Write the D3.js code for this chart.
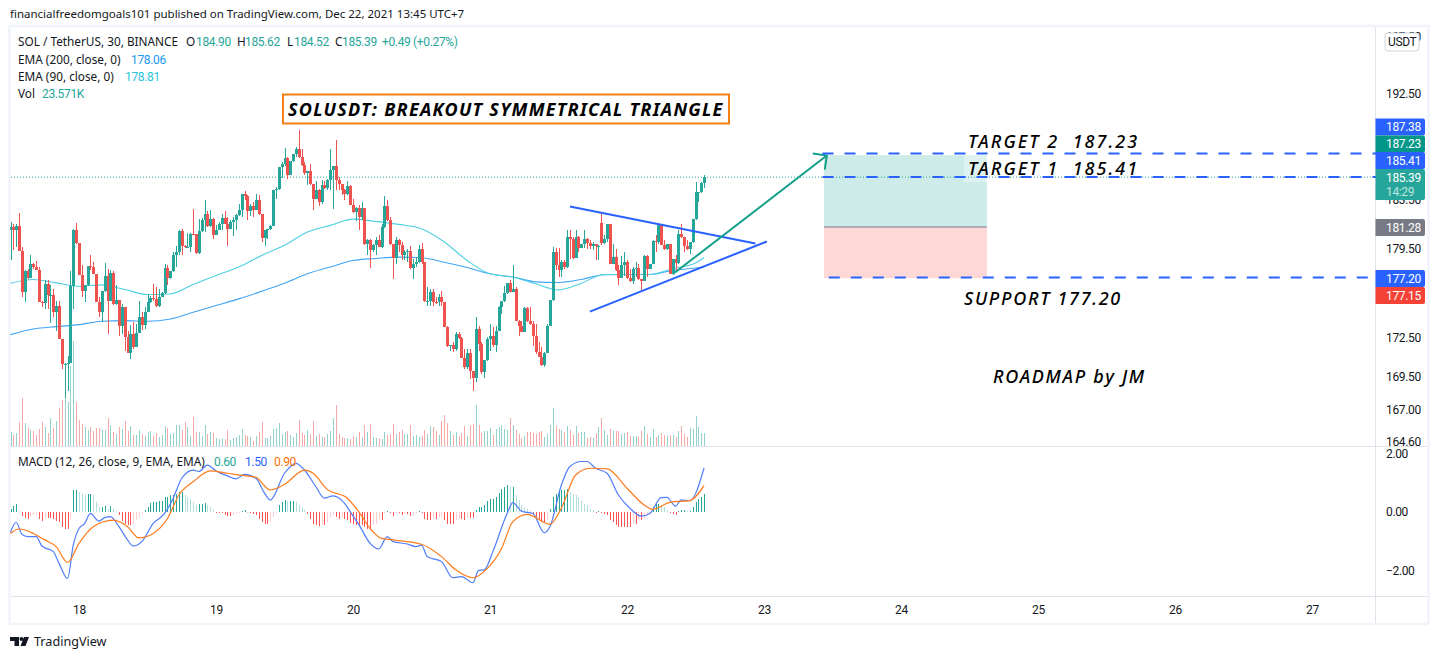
<!DOCTYPE html>
<html><head><meta charset="utf-8">
<style>html,body{margin:0;padding:0;background:#fff;overflow:hidden}svg{display:block}text{font-family:"Noto Sans",sans-serif;fill:#131722}</style>
<script src="https://cdnjs.cloudflare.com/ajax/libs/d3/7.8.5/d3.min.js"></script>
</head><body><svg id="c" width="1439" height="659"></svg>
<script>
const closes=[181.27,181.00,181.33,179.33,176.04,177.69,177.16,178.30,178.04,177.83,175.30,175.17,176.70,175.82,175.82,174.46,174.98,172.37,170.45,170.45,170.50,176.51,181.00,179.98,177.37,176.17,176.57,178.09,178.04,177.50,175.30,174.46,176.17,177.29,175.38,177.58,175.11,175.43,173.35,174.90,172.50,171.26,172.76,171.73,172.84,174.06,173.49,174.51,175.24,175.56,175.46,174.98,175.69,175.96,178.00,177.16,177.69,178.97,179.24,180.92,179.74,179.66,179.66,180.73,180.68,179.16,180.92,181.89,182.35,181.33,181.95,180.60,181.06,181.54,182.03,181.54,181.14,181.68,181.81,182.27,182.63,
183.95,183.79,182.57,182.99,182.68,183.51,182.35,180.40,181.00,181.14,181.38,184.34,184.42,186.22,186.49,186.99,185.53,186.71,187.34,187.79,187.04,186.43,185.72,185.93,184.78,183.57,184.34,183.32,184.75,184.48,185.17,185.99,186.35,185.17,184.78,184.34,183.95,184.62,183.10,182.49,182.82,182.08,182.85,179.87,180.25,179.39,179.85,180.20,179.66,181.27,182.96,181.81,179.87,178.79,180.25,179.79,178.97,179.24,179.33,177.96,178.30,178.43,179.52,178.43,175.33,175.38,176.09,175.30,175.24,175.69,175.24,173.33,171.80,171.93,171.60,172.76,172.45,170.90,170.19,171.26,169.88,169.37,173.15,171.98,
169.80,170.75,172.37,172.63,171.93,173.02,174.85,175.38,175.96,176.78,176.09,176.30,173.75,173.41,172.94,174.80,173.75,173.54,172.58,171.34,171.01,170.39,171.26,173.41,175.43,179.24,178.22,177.77,178.43,178.04,180.47,180.33,178.79,180.47,179.58,179.93,180.33,179.98,179.71,179.87,179.71,179.71,179.98,180.33,181.49,178.30,178.84,177.77,177.18,178.17,178.43,177.16,176.89,177.91,177.96,177.10,176.91,178.92,177.91,178.30,180.12,180.06,181.41,179.79,179.52,179.87,177.50,178.65,178.36,180.73,180.47,179.71,179.46,180.06,181.95,184.15,184.15,184.89,185.39];
const highs=[181.68,181.49,181.49,182.43,179.66,177.77,177.91,179.03,178.36,178.50,178.04,175.38,176.97,176.97,176.57,176.30,175.38,175.38,172.37,170.50,171.08,177.69,181.14,181.59,179.98,178.17,176.57,178.15,179.03,178.43,177.50,175.69,176.17,178.38,177.91,177.77,177.69,176.57,175.43,175.11,174.90,172.97,173.49,173.67,173.54,175.38,174.46,174.85,175.90,175.77,176.70,176.43,176.30,176.04,178.30,178.17,177.69,179.24,179.71,181.00,181.14,179.85,180.79,180.79,182.77,180.73,181.95,182.03,183.46,182.58,182.68,182.00,181.41,181.68,182.35,182.58,182.08,181.81,182.08,182.35,183.18,
183.95,184.20,183.87,183.18,183.32,183.95,183.87,182.35,181.00,181.14,181.41,184.34,184.56,186.22,186.63,187.85,187.10,186.77,187.34,187.96,189.38,187.76,186.63,185.93,186.49,184.78,185.11,184.42,185.17,185.11,185.25,187.76,186.35,188.48,185.39,184.78,184.42,185.06,184.70,183.59,182.90,183.04,183.32,182.85,180.33,180.33,179.93,180.47,180.60,181.54,183.79,183.51,182.08,179.87,180.47,180.33,180.06,179.38,179.52,179.71,178.70,178.84,179.79,180.01,178.30,176.43,176.30,176.30,175.64,175.90,176.17,175.24,173.41,171.93,172.11,172.89,172.89,172.50,171.60,171.60,171.60,169.93,174.06,173.41,
172.11,170.75,172.50,173.54,173.28,173.41,174.98,175.38,176.51,176.78,177.02,178.17,176.48,173.85,173.80,174.85,174.85,174.85,173.80,173.54,172.11,171.73,171.34,173.54,175.43,179.66,179.60,179.60,178.57,178.57,181.06,181.06,180.47,181.06,180.52,179.93,181.00,180.39,180.20,180.06,179.79,179.79,182.43,180.60,181.54,181.54,179.87,179.52,178.17,178.90,179.24,178.57,177.91,178.04,178.43,178.30,177.10,179.03,178.97,178.30,180.20,180.60,181.49,181.41,180.20,179.93,179.87,178.65,178.97,181.00,181.54,180.47,180.20,180.06,181.95,184.97,184.15,184.97,185.61];
const lows=[178.57,179.38,179.66,179.33,175.64,175.24,177.10,177.16,177.91,177.77,175.24,174.85,174.72,174.72,173.59,174.06,172.97,172.37,170.06,167.82,168.40,170.50,174.72,179.93,177.37,175.64,175.30,176.51,177.77,177.45,175.24,174.06,173.67,176.04,172.76,175.38,175.06,175.06,172.63,172.76,171.47,171.26,170.85,171.60,171.73,172.81,173.07,173.15,174.46,175.19,175.38,174.85,174.85,175.64,175.90,176.57,177.10,177.63,178.04,178.97,178.97,179.60,179.60,179.24,180.65,179.11,179.11,180.87,180.87,181.27,181.27,180.33,180.60,181.00,181.00,181.49,179.71,181.08,180.52,181.00,182.16,
182.13,183.46,181.81,182.21,182.08,182.63,182.30,180.06,179.71,180.33,181.00,181.33,183.59,184.34,185.33,186.35,185.25,185.53,186.66,187.04,186.99,186.35,185.53,184.70,184.70,182.71,183.54,182.96,183.18,184.42,184.34,184.28,182.77,184.34,184.28,183.87,183.46,183.87,183.04,182.43,181.76,181.00,181.81,179.79,178.97,177.96,179.24,178.97,179.66,179.60,181.22,181.76,179.79,177.05,178.30,179.24,178.57,178.57,178.43,177.91,177.10,178.04,178.36,178.30,175.24,174.98,174.98,174.93,175.11,174.98,174.98,173.28,171.73,171.47,171.34,171.47,172.37,170.90,170.06,170.06,169.29,168.40,169.04,171.47,
169.67,169.37,170.70,171.47,171.78,171.39,173.02,174.33,175.24,175.90,176.04,176.04,173.75,172.63,172.89,172.89,173.67,173.49,171.86,171.21,170.95,170.32,170.19,171.26,173.41,175.38,177.83,177.24,177.24,177.91,178.00,178.70,178.70,178.79,179.24,179.58,179.58,179.52,179.52,179.38,178.57,178.57,179.79,179.87,180.06,178.30,178.30,177.72,176.57,177.24,177.29,177.10,176.84,176.70,177.24,176.97,176.04,176.91,177.24,177.91,178.25,179.24,179.93,179.79,179.44,179.44,177.45,177.37,177.63,178.30,180.41,179.24,179.38,179.11,180.01,181.89,183.32,184.06,184.48];
const firstOpen=181.00;
const gapOpenBars=[207];
const gapOpenPrices=[181.59];
const volumes=[24.2,19.5,22.4,42.5,85,41.3,31.9,28.3,26.6,19.5,30.1,42.5,33.6,23,49.6,31.9,44.3,67.3,81.4,128.6,77.9,141.6,185.9,77.9,46,38.9,33.6,28.3,33.6,26.6,31.9,31.9,28.3,28.3,49.6,37.2,24.8,21.2,33.6,30.1,44.3,26.6,35.4,19.5,19.5,28.3,21.2,17.7,24.8,26.6,17.7,23,15.9,19.5,35.4,31.9,21.2,23,37.2,37.2,28.3,42.5,33.6,17.7,51.3,24.8,24.8,17.7,37.2,21.2,24.8,23,14.2,12.4,14.2,12.4,28.3,10.6,14.2,15.9,19.5,
30.1,19.5,17.7,15.9,8.9,17.7,24.8,42.5,14.2,14.2,17.7,30.1,31.9,40.7,21.2,24.8,26.6,19.5,15.9,23,46,23,19.5,28.3,21.2,44.3,17.7,21.2,15.9,15.9,21.2,26.6,49.6,72.6,21.2,15.9,14.2,14.2,12.4,17.7,15.9,24.8,14.2,37.2,24.8,38.9,15.9,14.2,14.2,12.4,24.8,19.5,21.2,38.9,21.2,24.8,28.3,21.2,21.2,37.2,17.7,19.5,15.9,17.7,28.3,21.2,35.4,33.6,26.6,19.5,44.3,54.9,40.7,26.6,19.5,24.8,17.7,23,35.4,17.7,37.2,38.9,72.6,37.2,
23,26.6,26.6,31.9,19.5,30.1,33.6,37.2,30.1,28.3,49.6,37.2,28.3,21.2,14.2,17.7,24.8,24.8,23,21.2,24.8,26.6,15.9,21.2,37.2,67.3,35.4,30.1,28.3,24.8,35.4,28.3,19.5,35.4,23,24.8,24.8,14.2,15.9,14.2,23,33.6,49.6,28.3,19.5,30.1,26.6,26.6,26.6,21.2,23,24.8,17.7,17.7,17.7,15.9,26.6,35.4,21.2,15.9,30.1,15.9,19.5,23,19.5,17.7,19.5,19.5,15.9,26.6,35.4,21.2,15.9,31.9,30.1,53.1,33.6,23,23.57];
const emaBars=[0,8,16,24,32,40,48,56,64,72,80,88,96,104,112,120,128,136,144,152,160,168,176,184,192,200,208,216,224,232,240,243];
const ema90=[176.75,177.05,176.78,176.51,176.62,176.25,175.85,175.90,176.65,177.37,178.04,178.97,179.79,180.87,181.41,181.92,181.73,181.49,181.14,180.06,178.57,177.50,177.24,176.70,176.22,176.75,177.45,177.45,177.45,177.91,178.36,178.81];
const ema200=[172.71,173.15,173.33,173.49,173.75,173.80,173.75,173.93,174.46,174.98,175.51,176.11,176.75,177.50,178.04,178.57,178.73,178.84,178.79,178.43,178.00,177.50,177.24,176.86,176.81,177.05,177.42,177.45,177.45,177.77,177.96,178.06];
const macdBars=[0,2,4,6,9,11,15,17,20,22,24,26,28,31,33,35,38,41,43,46,50,54,57,60,64,66,69,72,76,79,82,86,89,91,96,100,103,107,110,113,117,119,122,126,129,132,134,139,142,144,146,151,155,158,162,164,166,169,174,176,179,183,187,189,193,196,200,202,205,209,213,217,221,224,228,230,233,235,238,243];
const macdLine=[-0.69,-0.35,-0.76,-0.84,-0.84,-1.16,-1.35,-1.75,-2.26,-1.12,-0.56,-0.39,-0.05,-0.31,-0.19,-0.16,-0.50,-0.95,-1.16,-1.01,-0.39,-0.05,0.47,1.15,1.43,1.38,1.60,1.40,1.23,1.13,1.28,1.15,0.64,0.41,1.32,1.66,1.43,0.86,0.47,0.55,0.30,0.01,-0.42,-1.07,-1.26,-0.84,-1.01,-1.09,-1.18,-1.13,-1.52,-1.69,-2.24,-2.20,-2.41,-1.99,-1.97,-1.35,-0.05,0.32,0.03,-0.05,-0.70,-0.50,0.92,1.55,1.72,1.72,1.49,1.32,0.58,0.13,-0.14,-0.05,0.49,0.50,0.20,0.41,0.39,1.50];
const signalBars=[0,3,8,12,16,20,24,29,36,41,45,50,55,59,64,70,76,82,86,91,96,103,106,111,118,122,126,130,134,144,151,156,162,167,172,176,181,189,193,198,203,209,216,222,225,231,238,243];
const signalLine=[-0.73,-0.58,-0.73,-0.95,-1.18,-1.72,-1.07,-0.50,-0.28,-0.50,-0.88,-0.73,-0.22,0.58,1.03,1.40,1.32,1.24,1.18,0.75,0.94,1.43,1.32,0.77,0.47,0.01,-0.56,-0.90,-0.95,-1.10,-1.52,-1.97,-2.24,-1.93,-1.25,-0.33,-0.08,-0.42,0.13,1.26,1.49,1.47,0.81,0.24,0.09,0.33,0.39,0.90];
const histogram=[0.09,0.20,0.28,0.05,-0.14,-0.20,-0.23,-0.16,-0.11,-0.09,-0.25,-0.32,-0.20,-0.20,-0.20,-0.23,-0.32,-0.34,-0.51,-0.57,-0.57,-0.23,0.74,0.74,0.68,0.63,0.57,0.63,0.63,0.57,0.34,0.17,0.17,0.20,0.11,0.20,0.09,0.02,-0.11,-0.32,-0.40,-0.43,-0.43,-0.40,-0.28,-0.20,-0.06,0.06,0.17,0.32,0.34,0.34,0.36,0.36,0.51,0.51,0.57,0.57,0.63,0.68,0.68,0.57,0.51,0.45,0.34,0.23,0.28,0.28,0.32,0.23,0.17,0.06,-0.01,-0.03,-0.05,-0.11,-0.14,-0.14,-0.11,-0.03,-0.02,0.02,0.06,0.01,-0.03,-0.07,-0.09,-0.23,-0.34,-0.40,-0.40,-0.34,-0.17,-0.02,0.23,0.34,0.40,0.38,0.38,0.38,0.34,0.25,0.17,0.06,-0.06,-0.23,-0.40,-0.43,-0.48,-0.43,-0.43,-0.34,-0.20,-0.09,-0.17,-0.23,-0.20,-0.25,-0.28,-0.36,-0.40,-0.43,-0.45,
-0.45,-0.51,-0.57,-0.63,-0.45,-0.40,-0.23,-0.28,-0.02,0.03,-0.03,-0.14,-0.02,-0.03,-0.09,-0.06,-0.06,-0.14,-0.11,-0.02,0.02,-0.02,-0.25,-0.28,-0.28,-0.23,-0.23,-0.20,-0.17,-0.28,-0.40,-0.42,-0.42,-0.28,-0.23,-0.23,-0.28,-0.20,-0.20,-0.20,0.06,0.17,0.17,0.23,0.36,0.43,0.45,0.51,0.66,0.77,0.85,0.91,0.85,0.85,0.57,0.40,0.23,0.17,0.09,0.03,-0.06,-0.17,-0.25,-0.34,-0.34,-0.28,0.09,0.51,0.63,0.70,0.74,0.74,0.77,0.68,0.63,0.57,0.51,0.36,0.28,0.25,0.11,0.06,-0.01,0.02,-0.03,-0.06,-0.11,-0.28,-0.34,-0.43,-0.51,-0.51,-0.51,-0.51,-0.51,-0.40,-0.40,-0.28,-0.28,-0.20,-0.11,-0.06,0.17,0.28,0.28,0.23,0.17,0.06,-0.03,-0.06,-0.09,0.03,0.06,0.06,0.03,0.03,0.17,0.34,0.45,0.51,0.60];
const dayBars=[24,72,120,168,216,264,312,360,408,456];
const dayLabels=["18","19","20","21","22","23","24","25","26","27"];
const priceTicks=[197.5,192.5,183.5,179.5,172.5,169.5,167,164.6];
const macdTicks=[2,0,-2];
const upperTrend=[[196,182.95],[261,179.93]];
const lowerTrend=[[203,174.50],[265,180.10]];
const arrowTrend=[[232.8,177.60],[286,187.20]];
const target2Line=[[284.5,187.38],[456+22.6,187.38]];
const target1Line=[[284.5,185.41],[456+22.6,185.41]];
const supportLine=[[286.7,177.20],[476.5,177.20]];
const boxBars=[285,342.1];
const boxPrices=[187.23,181.28,177.15];

const GREEN="#26a69a",RED="#ef5350";
const NUM="Roboto,sans-serif";
const svg=d3.select("#c");
const x=d3.scaleLinear().domain([24,456]).range([79,1312]);
const y=d3.scaleLog().domain([164.6,192.5]).range([441.5,93.5]);
const vY=d3.scaleLinear().domain([0,186]).range([446,341]);
const mY=d3.scaleLinear().domain([-2,2]).range([570.7,453.3]);
const opens=closes.map((c,i)=>{const g=gapOpenBars.indexOf(i);return g>=0?gapOpenPrices[g]:(i?closes[i-1]:firstOpen);});
const bars=closes.map((c,i)=>i);
const px=i=>Math.round(x(i));

// frame
svg.append("rect").attr("x",9.5).attr("y",26).attr("width",1419).attr("height",598).attr("fill","#fff").attr("stroke","#f0f3fa").attr("stroke-width",2.5);
[[1375.5,27,1375.5,623],[11,446.5,1427,446.5],[11,596.5,1427,596.5]].forEach(l=>svg.append("line").attr("x1",l[0]).attr("y1",l[1]).attr("x2",l[2]).attr("y2",l[3]).attr("stroke","#e0e3eb"));
// header
svg.append("text").attr("x",10).attr("y",18).attr("font-size",11.5).text("financialfreedomgoals101 published on TradingView.com, Dec 22, 2021 13:45 UTC+7");

// position box
svg.append("rect").attr("x",x(boxBars[0])).attr("width",x(boxBars[1])-x(boxBars[0])).attr("y",y(boxPrices[0])).attr("height",y(boxPrices[1])-y(boxPrices[0])).attr("fill","#cdebe8");
svg.append("rect").attr("x",x(boxBars[0])).attr("width",x(boxBars[1])-x(boxBars[0])).attr("y",y(boxPrices[1])).attr("height",y(boxPrices[2])-y(boxPrices[1])).attr("fill","#fdd8d6");
svg.append("line").attr("x1",x(boxBars[0])).attr("x2",x(boxBars[1])).attr("y1",y(boxPrices[1])).attr("y2",y(boxPrices[1])).attr("stroke","#787b86");
svg.append("rect").attr("x",964).attr("y",155).attr("width",23).attr("height",27).attr("fill","rgba(255,255,255,.35)");

// volume
svg.append("g").selectAll("rect").data(bars).join("rect")
 .attr("x",px).attr("width",1).attr("y",i=>vY(volumes[i])).attr("height",i=>446-vY(volumes[i]))
 .attr("fill",i=>closes[i]>=opens[i]?"rgba(38,166,154,.5)":"rgba(239,83,80,.5)").attr("shape-rendering","crispEdges");

// last price dotted
svg.append("line").attr("x1",11).attr("x2",1375).attr("y1",y(185.39)).attr("y2",y(185.39)).attr("stroke",GREEN).attr("stroke-dasharray","1 2");

const line=(xs,ys,sc)=>d3.line().x((d,i)=>x(xs[i])).y(d=>sc(d)).curve(d3.curveMonotoneX)(ys);
svg.append("path").attr("d",line(emaBars,ema200,y)).attr("fill","none").attr("stroke","#42a5f5").attr("stroke-width",1.1);
svg.append("path").attr("d",line(emaBars,ema90,y)).attr("fill","none").attr("stroke","#4dd0e1").attr("stroke-width",1.1);

// candles
const cg=svg.append("g").attr("shape-rendering","crispEdges");
cg.selectAll(".w").data(bars).join("rect").attr("class","w").attr("x",px).attr("width",1)
 .attr("y",i=>y(highs[i])).attr("height",i=>Math.max(1,y(lows[i])-y(highs[i])))
 .attr("fill",i=>closes[i]>=opens[i]?GREEN:RED);
cg.selectAll(".b").data(bars).join("rect").attr("class","b").attr("x",i=>px(i)-1).attr("width",3)
 .attr("y",i=>y(Math.max(opens[i],closes[i]))).attr("height",i=>Math.max(1,Math.abs(y(opens[i])-y(closes[i]))))
 .attr("fill",i=>closes[i]>=opens[i]?GREEN:RED);

// drawings
const seg=(pts,col,w,dash)=>svg.append("line").attr("x1",x(pts[0][0])).attr("y1",y(pts[0][1])).attr("x2",x(pts[1][0])).attr("y2",y(pts[1][1])).attr("stroke",col).attr("stroke-width",w).attr("stroke-dasharray",dash||null);
seg(upperTrend,"#2962ff",2);seg(lowerTrend,"#2962ff",2);
seg(arrowTrend,"#12a08a",2);
const tip=[x(arrowTrend[1][0]),y(arrowTrend[1][1])];
svg.append("path").attr("d",`M${tip[0]-14},${tip[1]-2}L${tip[0]},${tip[1]}L${tip[0]-2},${tip[1]+14}`).attr("fill","none").attr("stroke","#12a08a").attr("stroke-width",2);
seg(target2Line,"#2962ff",2,"11 11");seg(target1Line,"#2962ff",2,"11 11");seg(supportLine,"#2962ff",2,"11 11");

// annotations
svg.append("rect").attr("x",283).attr("y",94.5).attr("width",446).attr("height",29).attr("fill","#fff").attr("stroke","#f57f17").attr("stroke-width",2);
const note=(t,xx,yy,fs,w,ls)=>svg.append("text").attr("x",xx).attr("y",yy).attr("font-size",fs).attr("font-style","italic").attr("font-weight",w).style("letter-spacing",ls+"px").style("white-space","pre").style("fill","#000").text(t);
note("SOLUSDT: BREAKOUT SYMMETRICAL TRIANGLE",288,116,18,700,1.25);
note("TARGET 2  187.23",968,148,18,500,2.05);
note("TARGET 1  185.41",968,175,18,500,2.05);
note("SUPPORT 177.20",964,305,18,500,1.7);
note("ROADMAP by JM",993,383,18,500,1.7);

// MACD
svg.append("g").selectAll("rect").data(bars).join("rect").attr("x",px).attr("width",1)
 .attr("y",i=>Math.min(mY(histogram[i]),mY(0))).attr("height",i=>Math.max(1,Math.abs(mY(histogram[i])-mY(0))))
 .attr("fill",i=>{const v=histogram[i],p=i?histogram[i-1]:0;return v>=0?(v>=p?GREEN:"#b2dfdb"):(v<=p?"#ff5252":"#ffcdd2");}).attr("shape-rendering","crispEdges");
svg.append("path").attr("d",line(macdBars,macdLine,mY)).attr("fill","none").attr("stroke","#4f7dfb").attr("stroke-width",1.2);
svg.append("path").attr("d",line(signalBars,signalLine,mY)).attr("fill","none").attr("stroke","#ff7a1a").attr("stroke-width",1.2);

// axes
const clean=g=>{g.select(".domain").remove();g.selectAll(".tick line").remove();g.selectAll("text").attr("fill","#131722").style("font-family",NUM).style("font-size","12px").style("letter-spacing","-.35px");};
svg.append("g").attr("transform","translate(1386,0)").call(d3.axisRight(y).tickValues(priceTicks).tickFormat(d3.format(".2f")).tickSize(0).tickPadding(0)).call(clean);
svg.append("g").attr("transform","translate(1386,0)").call(d3.axisRight(mY).tickValues(macdTicks).tickFormat(d=>d<0?"−"+d3.format(".2f")(-d):d3.format(".2f")(d)).tickSize(0).tickPadding(0)).call(clean);
svg.append("g").attr("transform","translate(0,605)").call(d3.axisBottom(x).tickValues(dayBars).tickFormat((d,i)=>dayLabels[i]).tickSize(0).tickPadding(0)).call(clean);

// price labels
const tagPrices=[["187.38",127,"#2962ff"],["187.23",144,"#009688"],["185.41",160.5,"#2962ff"],["181.28",227.5,"#787b86"],["177.20",278.5,"#2962ff"],["177.15",295.5,"#f44336"]];
const tag=(yc,h,col)=>svg.append("path").attr("d",`M1375.5,${yc-h/2}H1423a2,2 0 0 1 2,2V${yc+h/2-2}a2,2 0 0 1 -2,2H1375.5Z`).attr("fill",col);
const numTxt=(t,xx,yy,col)=>svg.append("text").attr("x",xx).attr("y",yy).attr("font-size",12).style("font-family",NUM).style("letter-spacing","-.35px").style("fill",col||"#131722").text(t);
tag(184.5,31,GREEN);
numTxt("185.39",1386,181.5,"#fff");
numTxt("14:29",1386,196,"rgba(255,255,255,.7)");
tagPrices.forEach(t=>{tag(t[1],17,t[2]);numTxt(t[0],1386,t[1]+4,"#fff");});
svg.append("rect").attr("x",1385).attr("y",33).attr("width",34).attr("height",18).attr("rx",3).attr("fill","#fff").attr("stroke","#d1d4dc");
numTxt("USDT",1388,46);

// legend
const leg=(t,xx,yy)=>svg.append("text").attr("x",xx).attr("y",yy).attr("font-size",11.8).text(t);
leg("SOL / TetherUS, 30, BINANCE",18,46);
[["O",186],["H",237],["L",287],["C",335]].forEach(a=>leg(a[0],a[1],46));
[["184.90",196,GREEN],["185.62",245,GREEN],["184.52",294,GREEN],["185.39",342,GREEN],["+0.49 (+0.27%)",382,GREEN]].forEach(a=>numTxt(a[0],a[1],46,a[2]));
leg("EMA (200, close, 0)",18,64);numTxt("178.06",131,64,"#2196f3");
leg("EMA (90, close, 0)",18,81);numTxt("178.81",125,81,"#26c6da");
leg("Vol",18,98);numTxt("23.571K",42,98,GREEN);
leg("MACD (12, 26, close, 9, EMA, EMA)",18,466);numTxt("0.60",214,466,GREEN);numTxt("1.50",245,466,"#2962ff");numTxt("0.90",274,466,"#ff6d00");

// logo
svg.append("path").attr("d","M10,637H19V646H14.5V641H10ZM24,637L29,637L25.5,646H20.5Z").attr("fill","#131722");
svg.append("circle").attr("cx",21.5).attr("cy",639).attr("r",2).attr("fill","#131722");
svg.append("text").attr("x",34).attr("y",646).attr("font-size",12.6).text("TradingView");
</script></body></html>
